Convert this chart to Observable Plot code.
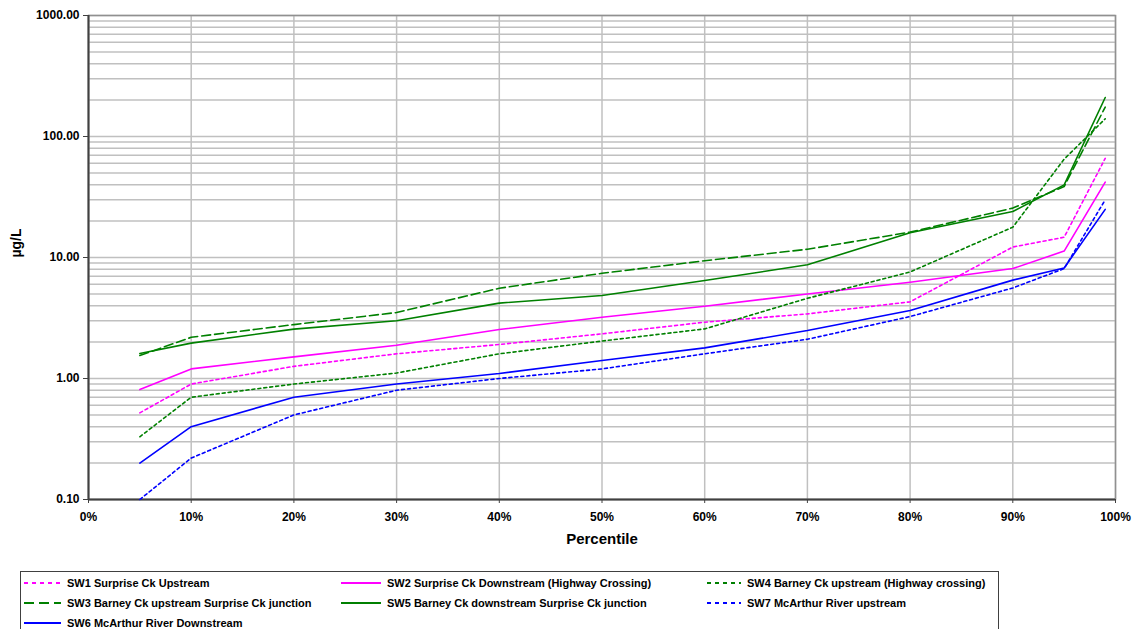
<!DOCTYPE html>
<html>
<head>
<meta charset="utf-8">
<script src="https://cdn.jsdelivr.net/npm/d3@7"></script>
<script src="https://cdn.jsdelivr.net/npm/@observablehq/plot@0.6"></script>
<style>
  html, body { margin: 0; padding: 0; background: #fff; }
  body { width: 1141px; height: 629px; overflow: hidden; font-family: "Liberation Sans", Arial, sans-serif; }
  #legend { position: absolute; left: 20px; top: 571px; width: 979px; height: 70px; border: 1px solid #404040; box-sizing: border-box; background: #fff; }
  .item { position: absolute; display: flex; align-items: center; font-weight: bold; font-size: 11px; color: #000; white-space: nowrap; height: 14px; }
  .item svg { margin-right: 6px; }
</style>
</head>
<body>
<div id="chart"></div>
<div id="legend"></div>
<script>
// ---- data ----
const percentiles = [5, 10, 20, 30, 40, 50, 60, 70, 80, 90, 95, 99];
const seriesNames = [
  "SW1 Surprise Ck Upstream",
  "SW2 Surprise Ck Downstream (Highway Crossing)",
  "SW4 Barney Ck upstream (Highway crossing)",
  "SW3 Barney Ck upstream Surprise Ck junction",
  "SW5 Barney Ck downstream Surprise Ck junction",
  "SW7 McArthur River upstream",
  "SW6 McArthur River Downstream"
];
const sw1 = [0.52, 0.90, 1.26, 1.60, 1.91, 2.34, 2.92, 3.42, 4.3, 12.2, 14.7, 66];
const sw2 = [0.81, 1.20, 1.51, 1.88, 2.54, 3.21, 3.96, 5.0, 6.25, 8.1, 11.3, 42];
const sw4 = [0.33, 0.70, 0.90, 1.11, 1.60, 2.04, 2.57, 4.6, 7.6, 17.8, 65, 140];
const sw3 = [1.55, 2.19, 2.79, 3.51, 5.57, 7.4, 9.4, 11.7, 16.2, 25.6, 38.6, 175];
const sw5 = [1.61, 1.96, 2.56, 3.0, 4.2, 4.85, 6.45, 8.7, 16.0, 24, 39.8, 210];
const sw7 = [0.10, 0.22, 0.50, 0.80, 1.0, 1.20, 1.60, 2.11, 3.25, 5.6, 8.1, 30];
const sw6 = [0.20, 0.40, 0.70, 0.90, 1.10, 1.41, 1.79, 2.49, 3.65, 6.5, 8.2, 25];
const seriesValues = [sw1, sw2, sw4, sw3, sw5, sw7, sw6];
const seriesColors = ["#ff00ff", "#ff00ff", "#008000", "#008000", "#008000", "#0000ff", "#0000ff"];
const seriesDash = ["3,3", null, "3,3", "9,4", null, "3,3", null];
const xTicks = [0, 10, 20, 30, 40, 50, 60, 70, 80, 90, 100];
const yTicks = [0.1, 1, 10, 100, 1000];
const yTickLabels = ["0.10", "1.00", "10.00", "100.00", "1000.00"];
const xTitle = "Percentile";
const yTitle = "µg/L";

// ---- grid helpers ----
const minorGrid = [];
[0.1, 1, 10, 100].forEach(b => { for (let k = 1; k <= 9; k++) minorGrid.push(+(b * k).toPrecision(3)); });
minorGrid.push(1000);

const lineMarks = seriesValues.map((vals, s) =>
  Plot.line(percentiles.map((p, i) => ({p, v: vals[i]})), {
    x: "p", y: "v",
    stroke: seriesColors[s],
    strokeWidth: 1.6,
    strokeDasharray: seriesDash[s] || undefined
  })
);

const chart = Plot.plot({
  width: 1141,
  height: 565,
  marginLeft: 88,
  marginRight: 26,
  marginTop: 15,
  marginBottom: 66,
  style: { fontFamily: "'Liberation Sans', Arial, sans-serif", fontWeight: "bold", fontSize: "12px", color: "#000", background: "#fff" },
  x: { domain: [0, 100], label: null },
  y: { type: "log", domain: [0.1, 1000], label: null },
  marks: [
    Plot.gridY(minorGrid, { stroke: "#c0c0c0", strokeOpacity: 1, strokeWidth: 1.5 }),
    Plot.gridX(xTicks, { stroke: "#c0c0c0", strokeOpacity: 1, strokeWidth: 1.5 }),
    Plot.frame({ stroke: "#909090", strokeWidth: 1.5 }),
    Plot.axisY(yTicks, { tickSize: 5, tickPadding: 4, label: null, stroke: "#404040",
      tickFormat: d => yTickLabels[yTicks.indexOf(d)], fontSize: 12, fontWeight: "bold" }),
    Plot.axisX(xTicks, { tickSize: 4, tickPadding: 9, label: null, stroke: "#404040",
      tickFormat: d => d + "%", fontSize: 12, fontWeight: "bold" }),
    Plot.ruleX([0], { stroke: "#404040", strokeWidth: 2 }),
    Plot.ruleY([0.1], { stroke: "#404040", strokeWidth: 2 }),
    ...lineMarks,
    Plot.text([xTitle], { text: d => d, frameAnchor: "bottom", dy: 44, fontSize: 15, fontWeight: "bold", fill: "#000" }),
    Plot.text([yTitle], { text: d => d, frameAnchor: "left", dx: -72, rotate: -90, fontSize: 14, fontWeight: "bold", fill: "#000" })
  ]
});
document.getElementById("chart").appendChild(chart);

// ---- legend ----
const legendOrder = [0, 1, 2, 3, 4, 5, 6];
const colX = [3, 320, 686];
const sampleW = [37, 40, 34];
const rowY = [4, 24, 44];
const legend = document.getElementById("legend");
legendOrder.forEach((s, idx) => {
  const col = idx % 3, row = Math.floor(idx / 3);
  const item = document.createElement("div");
  item.className = "item";
  item.style.left = colX[col] + "px";
  item.style.top = rowY[row] + "px";
  const w = sampleW[col];
  const ns = "http://www.w3.org/2000/svg";
  const svg = document.createElementNS(ns, "svg");
  svg.setAttribute("width", w);
  svg.setAttribute("height", 6);
  const ln = document.createElementNS(ns, "line");
  ln.setAttribute("x1", 0); ln.setAttribute("x2", w);
  ln.setAttribute("y1", 3); ln.setAttribute("y2", 3);
  ln.setAttribute("stroke", seriesColors[s]);
  ln.setAttribute("stroke-width", 2);
  if (seriesDash[s]) ln.setAttribute("stroke-dasharray", seriesDash[s] === "9,4" ? "10,5" : "4,4");
  svg.appendChild(ln);
  item.appendChild(svg);
  const span = document.createElement("span");
  span.textContent = seriesNames[s];
  item.appendChild(span);
  legend.appendChild(item);
});
</script>
</body>
</html>
